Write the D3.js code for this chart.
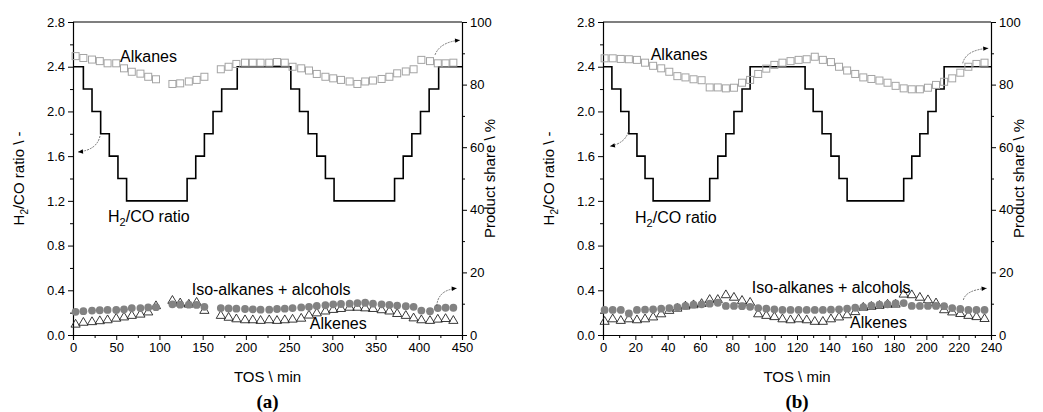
<!DOCTYPE html>
<html>
<head>
<meta charset="utf-8">
<script src="https://cdn.jsdelivr.net/npm/d3@7"></script>
<style>
body { margin: 0; background: #fff; }
text { font-family: "Liberation Sans", Arial, sans-serif; fill: #000; }
</style>
</head>
<body>
<div id="chart"></div>
<script>
// ---- panel (a) data ----
var tosA = [3,12,22,31,40,50,59,68,78,87,96,115,124,134,143,152,171,180,189,199,208,217,227,236,245,254,264,273,282,292,301,310,320,329,338,347,357,366,375,385,394,403,413,422,431,440];
var alkanesA = [89.1,88.5,88.0,87.5,86.8,86.8,85.2,84.1,83.5,82.5,81.7,80.2,80.4,81.0,81.5,82.5,84.9,85.7,86.6,87.0,87.0,87.0,87.0,87.2,87.0,85.7,85.2,84.5,83.4,82.5,82.0,81.5,81.0,80.2,81.0,81.3,81.8,82.5,83.6,84.2,84.9,87.9,87.5,86.8,86.8,87.0];
var isoA = [7.4,7.6,7.8,7.9,8.0,8.0,8.2,8.6,8.6,8.8,8.9,9.8,9.7,9.7,9.6,9.0,8.6,8.5,8.4,8.3,8.2,8.1,8.1,8.3,8.4,8.6,8.8,9.0,9.3,9.5,9.8,9.9,10.0,10.2,10.3,10.0,9.8,9.6,9.4,9.2,9.0,7.8,7.6,8.6,8.7,8.7];
var alkenesA = [3.6,4.2,4.4,4.7,5.0,5.5,5.9,6.4,6.8,7.5,9.5,11.2,10.4,10.0,10.6,8.0,6.4,5.8,5.3,5.0,5.0,4.8,5.0,4.8,5.0,5.2,5.5,6.5,7.2,7.8,8.3,8.6,9.0,9.0,8.8,8.6,8.2,7.8,7.0,6.4,5.6,5.0,4.8,5.2,5.4,4.8];
var ratioTimesA = [0,12,22,32,42,52,62,132,142,152,162,172,190,252,262,272,282,292,302,372,382,392,402,412,423,450];
var ratioA = [2.4,2.2,2.0,1.8,1.6,1.4,1.2,1.4,1.6,1.8,2.0,2.2,2.4,2.2,2.0,1.8,1.6,1.4,1.2,1.4,1.6,1.8,2.0,2.2,2.4,2.4];

// ---- panel (b) data ----
var tosB = [1,6,11,16,21,26,31,36,41,46,51,56,61,66,71,76,81,86,91,96,101,106,111,116,121,126,131,136,141,146,151,156,161,166,171,176,181,186,191,196,201,206,211,216,221,226,231,236];
var alkanesB = [88.4,88.4,88.2,88.1,87.9,87.0,86.0,85.2,84.1,82.7,82.3,81.7,81.4,79.1,79.1,78.8,79.0,80.6,81.5,83.4,85.1,86.3,87.0,87.5,87.9,88.1,88.9,87.9,87.2,85.7,84.5,83.4,82.3,81.8,81.3,80.6,79.6,78.8,78.5,78.5,79.0,79.9,80.9,82.0,83.8,85.7,86.6,87.0];
var isoB = [8.0,8.0,8.0,6.9,8.0,8.1,8.2,8.4,8.6,8.9,9.3,9.7,9.8,10.0,10.3,9.3,9.3,9.2,9.0,8.6,8.4,8.2,8.0,8.0,8.0,8.0,8.0,8.0,8.1,8.2,8.4,8.7,8.9,9.4,9.7,9.8,10.1,10.2,9.3,9.3,9.3,9.3,9.2,8.6,8.3,8.0,8.0,8.0];
var alkenesB = [4.5,5.3,4.8,5.3,5.0,5.3,5.9,6.9,8.0,8.7,9.4,9.8,10.2,11.5,11.5,13.0,12.2,11.2,10.6,6.9,6.4,6.0,5.3,5.0,5.3,5.0,4.5,4.5,5.3,5.9,6.6,7.6,9.0,9.3,9.6,10.0,10.0,13.2,13.0,12.2,11.4,10.4,8.2,7.5,7.0,6.4,6.0,5.4];
var ratioTimesB = [0,5.5,11,16,21,26,31,66,71,76,81,86,91,125,130,135.5,141,146,151,186,191,196,201,206,211,240];
var ratioB = [2.4,2.2,2.0,1.8,1.6,1.4,1.2,1.4,1.6,1.8,2.0,2.2,2.4,2.2,2.0,1.8,1.6,1.4,1.2,1.4,1.6,1.8,2.0,2.2,2.4,2.4];

// ---- ticks ----
var ratioTicks = [0,0.4,0.8,1.2,1.6,2.0,2.4,2.8];
var ratioMinor = [0.2,0.6,1.0,1.4,1.8,2.2,2.6];
var shareTicks = [0,20,40,60,80,100];
var shareMinor = [10,30,50,70,90];
var tosTicksA = [0,50,100,150,200,250,300,350,400,450];
var tosMinorA = [25,75,125,175,225,275,325,375,425];
var tosTicksB = [0,20,40,60,80,100,120,140,160,180,200,220,240];
var tosMinorB = [10,30,50,70,90,110,130,150,170,190,210,230];

var W = 1043, H = 412;
var svg = d3.select("#chart").append("svg").attr("width", W).attr("height", H);

function panel(cfg){
    var x = d3.scaleLinear().domain([0, cfg.xmax]).range([cfg.left, cfg.right]);
    var yR = d3.scaleLinear().domain([0, 2.8]).range([335, 22]);
    var yP = d3.scaleLinear().domain([0, 100]).range([335, 22]);
    var g = svg.append("g");

    // axes
    g.append("g").attr("transform", "translate(0,335)")
        .call(d3.axisBottom(x).tickValues(cfg.ticks).tickSize(5).tickFormat(d3.format("d")));
    g.append("g").attr("transform", "translate(0,335)")
        .call(d3.axisBottom(x).tickValues(cfg.minor).tickSize(3).tickFormat(""));
    g.append("g").attr("transform", "translate(" + cfg.left + ",0)")
        .call(d3.axisLeft(yR).tickValues(ratioTicks).tickSize(5).tickFormat(d3.format(".1f")));
    g.append("g").attr("transform", "translate(" + cfg.left + ",0)")
        .call(d3.axisLeft(yR).tickValues(ratioMinor).tickSize(3).tickFormat(""));
    g.append("g").attr("transform", "translate(" + cfg.right + ",0)")
        .call(d3.axisRight(yP).tickValues(shareTicks).tickSize(5).tickFormat(d3.format("d")));
    g.append("g").attr("transform", "translate(" + cfg.right + ",0)")
        .call(d3.axisRight(yP).tickValues(shareMinor).tickSize(3).tickFormat(""));
    g.selectAll(".domain").attr("stroke", "#000").attr("stroke-width", 1.1);
    g.selectAll(".tick line").attr("stroke", "#000");
    g.selectAll(".tick text").style("font-size", "13px").style("font-family", '"Liberation Sans", Arial, sans-serif');
    g.append("line").attr("x1", cfg.left).attr("x2", cfg.right).attr("y1", 22).attr("y2", 22)
        .attr("stroke", "#000").attr("stroke-width", 1.1);

    // ratio step line
    var pts = cfg.ratioT.map(function(t, i){ return [t, cfg.ratio[i]]; });
    g.append("path").datum(pts)
        .attr("d", d3.line().x(function(d){ return x(d[0]); }).y(function(d){ return yR(d[1]); }).curve(d3.curveStepAfter))
        .attr("fill", "none").attr("stroke", "#000").attr("stroke-width", 1.6);

    // alkanes - open squares
    g.selectAll("rect.alk").data(cfg.tos).enter().append("rect")
        .attr("x", function(d){ return x(d) - 3.5; })
        .attr("y", function(d, i){ return yP(cfg.alkanes[i]) - 3.5; })
        .attr("width", 7).attr("height", 7)
        .attr("fill", "none").attr("stroke", "#a4a4a4").attr("stroke-width", 1);

    // alkenes - open triangles
    g.selectAll("path.ene").data(cfg.tos).enter().append("path")
        .attr("d", function(d, i){
            var cx = x(d), cy = yP(cfg.alkenes[i]);
            return "M" + (cx - 4.6) + "," + (cy + 3.4) + "L" + cx + "," + (cy - 4.4) + "L" + (cx + 4.6) + "," + (cy + 3.4) + "Z";
        })
        .attr("fill", "none").attr("stroke", "#222").attr("stroke-width", 0.9);

    // iso-alkanes + alcohols - filled circles
    g.selectAll("circle.iso").data(cfg.tos).enter().append("circle")
        .attr("cx", function(d){ return x(d); })
        .attr("cy", function(d, i){ return yP(cfg.iso[i]); })
        .attr("r", 3.9).attr("fill", "#828282");

    // curved arrows
    g.selectAll("path.arr").data(cfg.arrows).enter().append("path")
        .attr("d", function(a){
            var y = a.axis === "r" ? yR : yP;
            return "M" + x(a.from[0]) + "," + y(a.from[1]) + "Q" + x(a.ctl[0]) + "," + y(a.ctl[1]) + " " + x(a.to[0]) + "," + y(a.to[1]);
        })
        .attr("fill", "none").attr("stroke", "#555").attr("stroke-width", 0.8).attr("stroke-dasharray", "2,1");
    g.selectAll("path.head").data(cfg.arrows).enter().append("path")
        .attr("d", function(a){
            var y = a.axis === "r" ? yR : yP;
            var tx = x(a.to[0]), ty = y(a.to[1]);
            var ang = Math.atan2(ty - y(a.ctl[1]), tx - x(a.ctl[0]));
            var l = 5, w = 2.2;
            var bx = tx - l * Math.cos(ang), by = ty - l * Math.sin(ang);
            return "M" + tx + "," + ty + "L" + (bx - w * Math.sin(ang)) + "," + (by + w * Math.cos(ang)) +
                "L" + (bx + w * Math.sin(ang)) + "," + (by - w * Math.cos(ang)) + "Z";
        })
        .attr("fill", "#000");

    // annotations
    var ann = g.append("g").style("font-size", "16px");
    ann.append("text").attr("x", x(cfg.lab.alk[0])).attr("y", yP(cfg.lab.alk[1])).text("Alkanes");
    var h = ann.append("text").attr("x", x(cfg.lab.ratio[0])).attr("y", yR(cfg.lab.ratio[1]));
    h.append("tspan").text("H");
    h.append("tspan").attr("dy", 4).style("font-size", "11px").text("2");
    h.append("tspan").attr("dy", -4).text("/CO ratio");
    ann.append("text").attr("x", x(cfg.lab.iso[0])).attr("y", yP(cfg.lab.iso[1])).text("Iso-alkanes + alcohols");
    ann.append("text").attr("x", x(cfg.lab.ene[0])).attr("y", yP(cfg.lab.ene[1])).text("Alkenes");

    // axis titles
    var mid = (cfg.left + cfg.right) / 2;
    g.append("text").attr("x", mid).attr("y", 382).attr("text-anchor", "middle")
        .style("font-size", "15px").text("TOS \\ min");
    var lt = g.append("text").attr("transform", "translate(" + (cfg.left - 49) + ",178.5) rotate(-90)")
        .attr("text-anchor", "middle").style("font-size", "15px");
    lt.append("tspan").text("H");
    lt.append("tspan").attr("dy", 4).style("font-size", "10px").text("2");
    lt.append("tspan").attr("dy", -4).text("/CO ratio \\ -");
    g.append("text").attr("transform", "translate(" + (cfg.right + 33) + ",178.5) rotate(-90)")
        .attr("text-anchor", "middle").style("font-size", "15px").text("Product share \\ %");
    g.append("text").attr("x", mid).attr("y", 408).attr("text-anchor", "middle")
        .style("font-family", '"Liberation Serif", "DejaVu Serif", serif').style("font-weight", "bold")
        .style("font-size", "19px").text(cfg.tag);
}

panel({
    left: 73, right: 462, xmax: 450, ticks: tosTicksA, minor: tosMinorA,
    tos: tosA, alkanes: alkanesA, iso: isoA, alkenes: alkenesA,
    ratioT: ratioTimesA, ratio: ratioA, tag: "(a)",
    arrows: [
        {axis: "r", from: [31.2, 1.78], ctl: [27.8, 1.655], to: [5.8, 1.637]},
        {axis: "p", from: [418.8, 89.5], ctl: [424.5, 93.6], to: [447.7, 94.2]},
        {axis: "p", from: [420.8, 9.3], ctl: [422.2, 14.4], to: [443.9, 14.9]}
    ],
    lab: {alk: [54.4, 87.2], ratio: [40.5, 1.011], iso: [137.3, 12.8], ene: [274, 1.8]}
});

panel({
    left: 603, right: 991, xmax: 240, ticks: tosTicksB, minor: tosMinorB,
    tos: tosB, alkanes: alkanesB, iso: isoB, alkenes: alkenesB,
    ratioT: ratioTimesB, ratio: ratioB, tag: "(b)",
    arrows: [
        {axis: "r", from: [15.6, 1.816], ctl: [13.6, 1.716], to: [4.3, 1.688]},
        {axis: "p", from: [222.5, 86.8], ctl: [224.5, 91.1], to: [238.3, 91.6]},
        {axis: "p", from: [222.9, 11.2], ctl: [224.5, 14.4], to: [237.3, 14.9]}
    ],
    lab: {alk: [29.5, 87.9], ratio: [19.8, 1.0], iso: [92, 13.3], ene: [152.8, 2.1]}
});
</script>
</body>
</html>
